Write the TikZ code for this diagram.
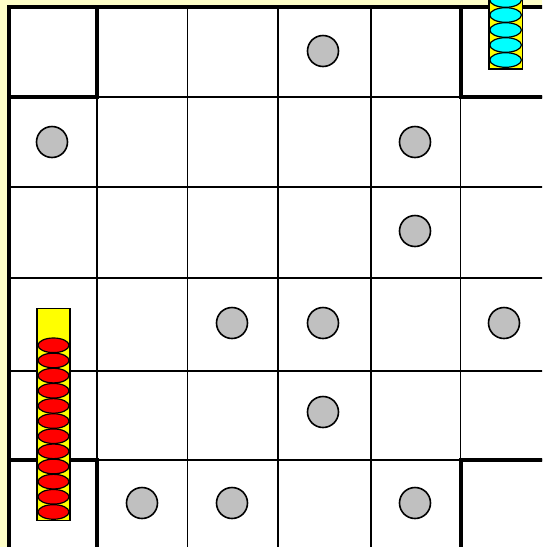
\documentclass[tikz,border=0pt]{standalone}
\definecolor{paleyellow}{RGB}{255,255,200}
\definecolor{piecegray}{RGB}{192,192,192}
\definecolor{chipcyan}{RGB}{0,255,255}
\definecolor{chipred}{RGB}{255,0,0}
\definecolor{tubeyellow}{RGB}{255,255,0}
\tikzset{
  thin grid/.style={line width=1.7pt, black},
  thick grid/.style={line width=4pt, black},
  stone/.style={circle, draw=black, line width=1.6pt, fill=piecegray, minimum size=31pt, inner sep=0pt},
  tube/.style={draw=black, line width=1.2pt, fill=tubeyellow},
  redchip/.style={draw=black, line width=1.2pt, fill=chipred},
  cyanchip/.style={draw=black, line width=1.2pt, fill=chipcyan},
}
\begin{document}
\begin{tikzpicture}[x=1pt,y=-1pt]
\useasboundingbox (0,0) rectangle (542,547);
\clip (0,0) rectangle (542,547);
\fill[paleyellow] (0,0) rectangle (542,547);
\fill[white] (8.5,7) rectangle (560,560);
% thin grid lines
\foreach \x in {97.2,187.5,278,371,460.5} \draw[thin grid] (\x,7) -- (\x,560);
\foreach \y in {97,187,278,370.7,460} \draw[thin grid] (8.5,\y) -- (560,\y);
% outer edges
\draw[thick grid] (8.8,560) -- (8.8,7.2) -- (560,7.2);
% thick corner cells
\draw[thick grid] (8.8,97) -- (97.2,97) -- (97.2,7.2);
\draw[thick grid] (460.5,7.2) -- (460.5,97) -- (560,97);
\draw[thick grid] (8.8,460) -- (97.2,460) -- (97.2,560);
\draw[thick grid] (460.5,560) -- (460.5,460) -- (560,460);
% gray stones
\foreach \cx/\cy [count=\i] in {323/51, 52/142, 415/142, 415/231, 232/323, 323/323, 504/323, 323/412, 142/503, 232/503, 415/503}
  \node[stone] (s\i) at (\cx,\cy) {};
% red stack
\draw[tube] (37,308.3) rectangle (70,520.7);
\foreach \k in {0,...,11}
  \draw[redchip] (53.5,{345.3+15.15*\k}) ellipse [x radius=15.5, y radius=7.3];
% cyan stack
\draw[tube] (489,-10) rectangle (522.3,69);
\foreach \cy in {0,15,30,45,60}
  \draw[cyanchip] (505.6,\cy) ellipse [x radius=15.8, y radius=7.3];
\end{tikzpicture}
\end{document}
